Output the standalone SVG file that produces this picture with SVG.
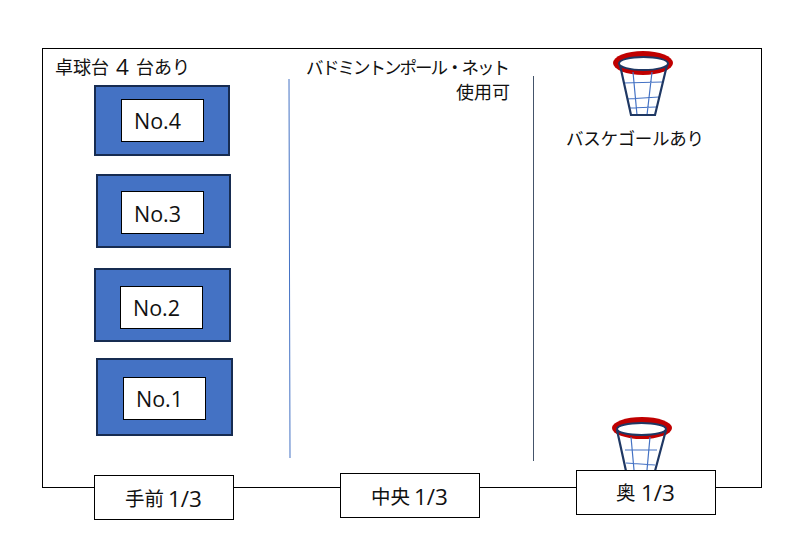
<svg xmlns="http://www.w3.org/2000/svg" width="796" height="542" viewBox="0 0 796 542">
<style>
text{font-family:"Open Sans","Noto Sans CJK JP",sans-serif;fill:#111}
.t{font-size:18px}
.k{font-size:17.500px}
.l{font-size:21.500px}
.c{font-size:19.500px}
.d{font-size:22.500px}
.tb{fill:#4472c4;stroke:#172c51;stroke-width:2}
.w{fill:#fff;stroke:#000;stroke-width:1}
.sep{stroke-width:1;fill:none}
.rim{fill:#c00000;stroke:none}
.inner{fill:#fff;stroke:#1f3864;stroke-width:2}
.wall{stroke:#1f3864;stroke-width:2.200;fill:none}
.net{stroke:#4472c4;stroke-width:1.200;fill:none}
</style>
<rect id="room" x="42.500" y="48.500" width="719" height="439" fill="#fff" stroke="#000"/>
<g id="connectors">
<line class="sep" x1="289" y1="79" x2="290" y2="458" stroke="#4472c4"/>
<line class="sep" x1="533.500" y1="76" x2="533.500" y2="461" stroke="#44546a"/>
</g>
<g id="label-tables"><text class="t" x="55" y="74">卓球台<tspan class="d" x="116" y="75">4</tspan><tspan x="136" y="74">台あり</tspan></text></g>
<g id="label-badminton"><text class="k" x="306" y="74" textLength="204" lengthAdjust="spacing">バドミントンポール・ネット</text><text class="t" x="510" y="99" text-anchor="end">使用可</text></g>
<g id="label-basket"><text class="k" x="566" y="145" textLength="138" lengthAdjust="spacing">バスケゴールあり</text></g>
<g id="table4"><rect class="tb" x="95" y="86" width="134" height="69"/><rect class="w" x="121.500" y="99.500" width="82" height="42"/><text class="l" x="134" y="129">No.4</text></g>
<g id="table3"><rect class="tb" x="97" y="175" width="133" height="72"/><rect class="w" x="121.500" y="191.500" width="82" height="42"/><text class="l" x="134" y="222">No.3</text></g>
<g id="table2"><rect class="tb" x="95" y="269" width="135" height="72"/><rect class="w" x="120.500" y="286.500" width="82" height="42"/><text class="l" x="133" y="316">No.2</text></g>
<g id="table1"><rect class="tb" x="97" y="359" width="135" height="76"/><rect class="w" x="123.500" y="377.500" width="82" height="42"/><text class="l" x="136" y="407">No.1</text></g>
<g id="hoop-top">
<ellipse class="rim" cx="643" cy="63" rx="30" ry="12"/>
<path class="net" d="M633 72L637 115M652 72L647 115M623 83L662 82M627 99L659 97M630 108L656 107"/>
<path class="wall" d="M620 65L631 115H655L667 65"/>
<ellipse class="inner" cx="643.500" cy="63.500" rx="24.500" ry="6.500"/>
</g>
<g id="hoop-bottom">
<ellipse class="rim" cx="642" cy="428" rx="30" ry="11"/>
<path class="net" d="M631 437L634 470M650 437L647 470M625 450L657 450M626 463L655 465"/>
<path class="wall" d="M617 430L626 471M666 430L655 471"/>
<ellipse class="inner" cx="641.500" cy="429" rx="24.500" ry="6"/>
</g>
<g id="zone-front"><rect class="w" x="94.500" y="475.500" width="139" height="44"/><text class="c" x="125" y="506">手前<tspan class="d" x="168" y="507">1/3</tspan></text></g>
<g id="zone-middle"><rect class="w" x="340.500" y="473.500" width="139" height="44"/><text class="c" x="371" y="504">中央<tspan class="d" x="414" y="505">1/3</tspan></text></g>
<g id="zone-back"><rect class="w" x="576.500" y="470.500" width="139" height="44"/><text class="c" x="616" y="500">奥<tspan class="d" x="641" y="501">1/3</tspan></text></g>
</svg>
